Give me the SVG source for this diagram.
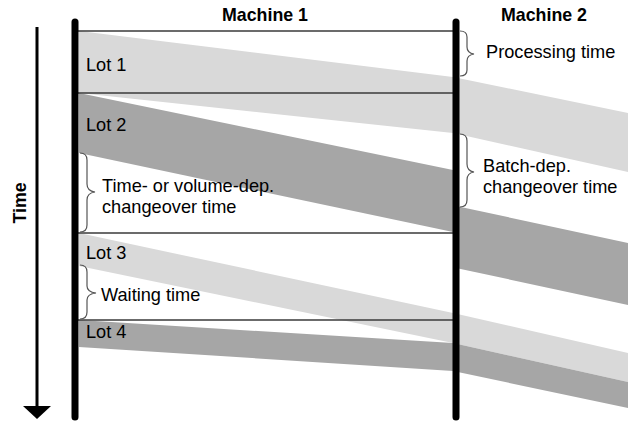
<svg xmlns="http://www.w3.org/2000/svg" width="628" height="421" viewBox="0 0 628 421">
  <style>
    text { font-family: "Liberation Sans", Arial, sans-serif; fill: #000; }
    .head { font-size: 17.8px; font-weight: bold; }
    .lbl { font-size: 18.2px; }
    .light { fill: #d9d9d9; }
    .dark { fill: #a6a6a6; }
    .slot { stroke: #3a3a3a; stroke-width: 1.5; fill: none; }
    .machine { stroke: #000; stroke-width: 7; stroke-linecap: round; fill: none; }
    .brace { stroke: #555; stroke-width: 1.2; fill: none; }
  </style>

  <!-- lot bands flowing from machine 1 to machine 2 -->
  <g id="lots">
    <g id="lot1"><polygon class="light" points="79,31 453,77 628,113 628,172 453,133 79,93"/></g>
    <g id="lot2">
      <polygon class="dark" points="79,93 453,170 453,232 79,153"/>
      <polygon class="dark" points="456,206 628,243 628,305 456,268"/>
    </g>
    <g id="lot3"><polygon class="light" points="79,233 453,313 628,353 628,382 453,343 79,266"/></g>
    <g id="lot4"><polygon class="dark" points="79,320 453,343 628,382 628,408 453,371 79,347"/></g>
  </g>

  <!-- lot boundaries on machine 1 -->
  <g id="connectors">
    <line class="slot" x1="78" y1="31" x2="453" y2="31"/>
    <line class="slot" x1="78" y1="93" x2="453" y2="93"/>
    <line class="slot" x1="78" y1="233" x2="453" y2="233"/>
    <line class="slot" x1="78" y1="320" x2="453" y2="320"/>
  </g>

  <!-- machine time lines -->
  <g id="machine1">
    <line class="machine" x1="75" y1="22" x2="75" y2="417"/>
    <text class="head" x="265" y="21" text-anchor="middle">Machine 1</text>
  </g>
  <g id="machine2">
    <line class="machine" x1="456" y1="22" x2="456" y2="417"/>
    <text class="head" x="544" y="21" text-anchor="middle">Machine 2</text>
  </g>

  <!-- time axis -->
  <g id="time-axis">
    <line x1="37" y1="27" x2="37" y2="408" stroke="#000" stroke-width="3"/>
    <polygon points="23,406 51,406 37,419" fill="#000"/>
    <text class="head" transform="translate(26,203) rotate(-90)" text-anchor="middle">Time</text>
  </g>

  <!-- lot labels -->
  <g id="lot-labels">
    <text class="lbl" x="86" y="71">Lot 1</text>
    <text class="lbl" x="86" y="131">Lot 2</text>
    <text class="lbl" x="86" y="259">Lot 3</text>
    <text class="lbl" x="86" y="338">Lot 4</text>
  </g>

  <!-- annotated intervals -->
  <g id="changeover-m1">
    <path class="brace" d="M80,153 Q87,153 87,160 L87,184 Q87,191 95,192 Q87,193 87,200 L87,225 Q87,232 80,232"/>
    <text class="lbl" x="102" y="192">Time- or volume-dep.</text>
    <text class="lbl" x="102" y="213">changeover time</text>
  </g>
  <g id="waiting-m1">
    <path class="brace" d="M80,265 Q87,265 87,272 L87,286 Q87,292 96,293 Q87,294 87,300 L87,312 Q87,319 80,319"/>
    <text class="lbl" x="101" y="301">Waiting time</text>
  </g>
  <g id="processing-m2">
    <path class="brace" d="M460,31 Q467,31 467,37 L467,47 Q467,53 474,54 Q467,55 467,61 L467,70 Q467,76 460,76"/>
    <text class="lbl" x="486" y="58">Processing time</text>
  </g>
  <g id="changeover-m2">
    <path class="brace" d="M460,134 Q467,134 467,141 L467,164 Q467,171 474,172 Q467,173 467,180 L467,200 Q467,207 460,207"/>
    <text class="lbl" x="483" y="172">Batch-dep.</text>
    <text class="lbl" x="483" y="193">changeover time</text>
  </g>
</svg>
